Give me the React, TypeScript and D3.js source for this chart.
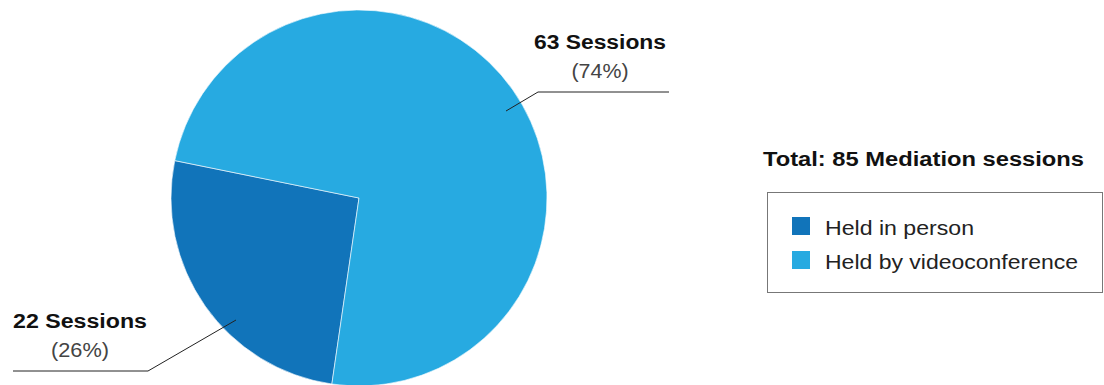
import React from "react";
import * as d3 from "d3";

const categories = ["Held in person", "Held by videoconference"];
const values = [22, 63];
const percents = ["(26%)", "(74%)"];
const sessionLabels = ["22 Sessions", "63 Sessions"];
const colors = ["#1174BA", "#27AAE1"];
const totalLabel = "Total: 85 Mediation sessions";

export default function App() {
  const W = 1104, H = 385;
  const cx = 359, cy = 198, r = 188;
  const start = (188.3 * Math.PI) / 180;
  const pie = d3.pie<number>().sort(null).value((d) => d)
    .startAngle(start)
    .endAngle(start + 2 * Math.PI);
  const arcs = pie(values);
  const arc = d3.arc<d3.PieArcDatum<number>>().innerRadius(0).outerRadius(r);
  const font = "'Liberation Sans', Arial, Helvetica, sans-serif";

  const leaders = [
    { inner: [236, 320], elbow: [148, 371], end: [13, 371], tx: 80, ty1: 328, ty2: 357, w1: 134, w2: 58 },
    { inner: [506, 111], elbow: [538, 92], end: [669, 92], tx: 600, ty1: 48.5, ty2: 78, w1: 132, w2: 57 },
  ];
  const legendW = [149, 253];

  return (
    <svg width={W} height={H} style={{ position: "absolute", left: 0, top: 0, fontFamily: font }}>
      <g transform={`translate(${cx},${cy})`}>
        {arcs.map((a, i) => (
          <path key={i} d={arc(a) || ""} fill={colors[i]} stroke="#ffffff" strokeWidth={0.6} />
        ))}
      </g>
      {leaders.map((l, i) => (
        <g key={i}>
          <polyline
            points={`${l.inner.join(",")} ${l.elbow.join(",")} ${l.end.join(",")}`}
            fill="none" stroke="#222" strokeWidth={1}
          />
          <text x={l.tx} y={l.ty1} textAnchor="middle" fontWeight="bold" fontSize={19.5} fill="#111"
            textLength={l.w1} lengthAdjust="spacingAndGlyphs">
            {sessionLabels[i]}
          </text>
          <text x={l.tx} y={l.ty2} textAnchor="middle" fontSize={20} fill="#444"
            textLength={l.w2} lengthAdjust="spacingAndGlyphs">
            {percents[i]}
          </text>
        </g>
      ))}
      <text x={763} y={166} fontWeight="bold" fontSize={20} fill="#111"
        textLength={321} lengthAdjust="spacingAndGlyphs">{totalLabel}</text>
      <rect x={767.5} y={192.5} width={335} height={100} fill="none" stroke="#777" strokeWidth={1} />
      {categories.map((c, i) => (
        <g key={c}>
          <rect x={792} y={217 + i * 34} width={18} height={18} fill={colors[i]} />
          <text x={825} y={235 + i * 34} fontSize={20} fill="#222"
            textLength={legendW[i]} lengthAdjust="spacingAndGlyphs">{c}</text>
        </g>
      ))}
    </svg>
  );
}
